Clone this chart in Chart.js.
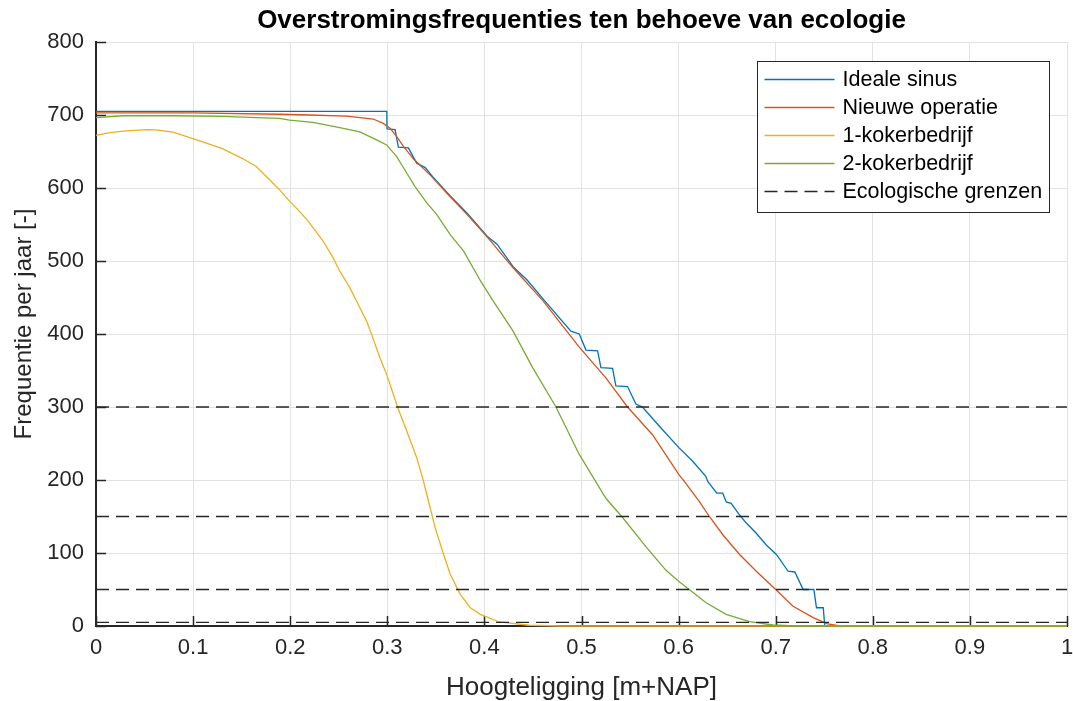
<!DOCTYPE html>
<html>
<head>
<meta charset="utf-8">
<script src="https://cdn.jsdelivr.net/npm/chart.js@4.4.1/dist/chart.umd.min.js"></script>
<style>
html,body{margin:0;padding:0;background:#ffffff;}
#wrap{width:1073px;height:701px;position:relative;}
</style>
</head>
<body>
<div id="wrap"><canvas id="c" width="1073" height="701"></canvas></div>
<script>
// ---- texts ----
const chartTitle = 'Overstromingsfrequenties ten behoeve van ecologie';
const xAxisTitle = 'Hoogteligging [m+NAP]';
const yAxisTitle = 'Frequentie per jaar [-]';
const seriesNames = ['Ideale sinus', 'Nieuwe operatie', '1-kokerbedrijf', '2-kokerbedrijf', 'Ecologische grenzen'];

// ---- ticks ----
const xTickValues = [0, 0.1, 0.2, 0.3, 0.4, 0.5, 0.6, 0.7, 0.8, 0.9, 1];
const xTickLabels = ['0', '0.1', '0.2', '0.3', '0.4', '0.5', '0.6', '0.7', '0.8', '0.9', '1'];
const yTickValues = [0, 100, 200, 300, 400, 500, 600, 700, 800];
const yTickLabels = ['0', '100', '200', '300', '400', '500', '600', '700', '800'];

// ---- series: Ideale sinus ----
const idealeX = [0, 0.2995, 0.2997, 0.308, 0.3114, 0.3217, 0.3303, 0.339, 0.3476, 0.3648, 0.382, 0.4028, 0.413, 0.4303, 0.444, 0.4617, 0.4891, 0.4977, 0.5046, 0.5166, 0.52, 0.532, 0.5354, 0.5474, 0.556, 0.5628, 0.58, 0.6005, 0.6143, 0.628, 0.63, 0.6393, 0.6455, 0.649, 0.6541, 0.6628, 0.6697, 0.68, 0.6903, 0.7007, 0.7128, 0.7197, 0.7283, 0.7393, 0.742, 0.749, 0.7505, 1];
const idealeY = [705, 705, 681, 680, 656, 655, 634, 628, 614, 589, 566, 534, 523, 491, 474, 446, 404, 400, 378, 377, 354, 353, 329, 328, 304, 300, 274, 244, 226, 205, 198, 182, 182, 170, 168, 152, 141, 127, 111, 98, 75, 74, 50, 50, 25, 25, 0, 0];

// ---- series: Nieuwe operatie ----
const nieuweX = [0, 0.1, 0.189, 0.22, 0.258, 0.2855, 0.2959, 0.3028, 0.3097, 0.3166, 0.3269, 0.344, 0.3648, 0.382, 0.4028, 0.43, 0.46, 0.4977, 0.5251, 0.5474, 0.5731, 0.6005, 0.6059, 0.6214, 0.6317, 0.6455, 0.6628, 0.68, 0.7, 0.7179, 0.7386, 0.7524, 0.766, 1];
const nieuweY = [703, 703, 701, 700, 698.5, 694.5, 688.5, 682, 670.5, 657, 640, 618, 588, 564, 533, 490, 446, 382, 340, 300, 262, 207, 198, 170.5, 150, 125, 98, 75, 50, 27, 11.4, 3.2, 0, 0];

// ---- series: 1-kokerbedrijf ----
const koker1X = [0, 0.0144, 0.028, 0.052, 0.062, 0.0795, 0.0966, 0.1137, 0.1308, 0.1514, 0.165, 0.1788, 0.189, 0.1993, 0.2096, 0.2183, 0.2338, 0.2441, 0.251, 0.2614, 0.2717, 0.2786, 0.2838, 0.2924, 0.2993, 0.3062, 0.3114, 0.32, 0.3303, 0.3372, 0.3441, 0.3493, 0.358, 0.3648, 0.3752, 0.3855, 0.3959, 0.4154, 0.446, 0.48, 1];
const koker1Y = [672, 676, 678, 680, 679.5, 676.4, 669, 661.4, 653.6, 640, 629.5, 611.4, 597.7, 582, 568, 555, 527.4, 504.6, 486.3, 463.5, 436, 418, 399.5, 367.6, 344.7, 317.4, 296.8, 267, 230.6, 198.6, 162, 134.7, 98, 70.8, 43.4, 25, 16, 5.5, 1, 0, 0];

// ---- series: 2-kokerbedrijf ----
const koker2X = [0, 0.028, 0.0795, 0.1308, 0.165, 0.189, 0.1993, 0.2234, 0.251, 0.2717, 0.289, 0.2993, 0.3097, 0.32, 0.3286, 0.3407, 0.351, 0.3648, 0.3786, 0.3959, 0.4086, 0.4291, 0.4497, 0.4737, 0.4977, 0.5251, 0.5423, 0.5663, 0.5868, 0.6, 0.611, 0.6283, 0.649, 0.673, 0.6972, 0.72, 1];
const koker2Y = [696.4, 699, 699, 698, 696.4, 695.5, 693, 690, 682.7, 677, 666, 659, 643, 620.5, 602, 579.5, 563.6, 536, 513.6, 473, 446, 405, 354, 300, 235, 175, 148.6, 108.7, 76.6, 61.4, 50, 31.8, 16, 6, 1.4, 0, 0];

// ---- ecological limits ----
const ecoLimits = [300, 150, 50, 5];
const ecoX = [0, 1];

const colors = ['#0072BD', '#D95319', '#EDB120', '#77AC30', '#262626'];
const FONT = '"Liberation Sans", Arial, Helvetica, sans-serif';

function pts(xs, ys) { return xs.map((x, i) => ({ x: x, y: ys[i] })); }

const datasets = [
  { label: seriesNames[0], data: pts(idealeX, idealeY), borderColor: colors[0], borderWidth: 1.3, order: 9 },
  { label: seriesNames[1], data: pts(nieuweX, nieuweY), borderColor: colors[1], borderWidth: 1.3, order: 8 },
  { label: seriesNames[2], data: pts(koker1X, koker1Y), borderColor: colors[2], borderWidth: 1.3, order: 7 },
  { label: seriesNames[3], data: pts(koker2X, koker2Y), borderColor: colors[3], borderWidth: 1.3, order: 6 }
];
ecoLimits.forEach((v, i) => {
  datasets.push({
    label: i === 0 ? seriesNames[4] : '',
    data: ecoX.map(x => ({ x: x, y: v })),
    borderColor: colors[4], borderWidth: 1.3, borderDash: [13, 7], order: 5 - i
  });
});
datasets.forEach(d => { d.pointRadius = 0; d.fill = false; d.tension = 0; d.clip = 3; });

// Title and y-axis title, drawn as text on the canvas
const titles = {
  id: 'titles',
  afterDraw(chart) {
    const ctx = chart.ctx, a = chart.chartArea;
    ctx.save();
    ctx.textAlign = 'center';
    ctx.textBaseline = 'middle';
    ctx.fillStyle = '#000000';
    ctx.font = 'bold 26px ' + FONT;
    ctx.fillText(chartTitle, (a.left + a.right) / 2, 21);
    ctx.fillStyle = '#262626';
    ctx.font = '24px ' + FONT;
    ctx.translate(24, (a.top + a.bottom) / 2 - 10);
    ctx.rotate(-Math.PI / 2);
    ctx.fillText(yAxisTitle, 0, 0);
    ctx.restore();
  }
};

const insideTicks = {
  id: 'insideTicks',
  beforeDatasetsDraw(chart) {
    const ctx = chart.ctx, a = chart.chartArea, xs = chart.scales.x, ys = chart.scales.y;
    ctx.save();
    ctx.strokeStyle = '#262626';
    ctx.lineWidth = 1.5;
    ctx.beginPath();
    xTickValues.forEach(v => { const p = Math.round(xs.getPixelForValue(v)) + 0.5; ctx.moveTo(p, a.bottom); ctx.lineTo(p, a.bottom - 10); });
    yTickValues.forEach(v => { const p = Math.round(ys.getPixelForValue(v)) + 0.5; ctx.moveTo(a.left, p); ctx.lineTo(a.left + 10, p); });
    ctx.stroke();
    ctx.restore();
  }
};

const boxLegend = {
  id: 'boxLegend',
  afterDraw(chart) {
    const ctx = chart.ctx, a = chart.chartArea;
    const items = chart.data.datasets.filter(d => d.label);
    const w = 292, rowH = 28;
    const h = items.length * rowH + 11;
    const x0 = Math.round(a.right - 18 - w) + 0.5, y0 = Math.round(a.top + 19) + 0.5;
    ctx.save();
    ctx.fillStyle = '#ffffff';
    ctx.fillRect(x0, y0, w, h);
    ctx.strokeStyle = '#262626';
    ctx.lineWidth = 1;
    ctx.strokeRect(x0, y0, w, h);
    ctx.font = '21.5px ' + FONT;
    ctx.textBaseline = 'middle';
    ctx.textAlign = 'left';
    items.forEach((d, i) => {
      const cy = Math.round(y0 + 17 + i * rowH) + 0.5;
      ctx.strokeStyle = d.borderColor;
      ctx.lineWidth = d.borderWidth;
      ctx.setLineDash(d.borderDash || []);
      ctx.beginPath(); ctx.moveTo(x0 + 7, cy); ctx.lineTo(x0 + 77, cy); ctx.stroke();
      ctx.setLineDash([]);
      ctx.fillStyle = '#000000';
      ctx.fillText(d.label, x0 + 85, cy + 1);
    });
    ctx.restore();
  }
};

new Chart(document.getElementById('c'), {
  type: 'line',
  data: { datasets: datasets },
  plugins: [insideTicks, boxLegend, titles],
  options: {
    responsive: false,
    devicePixelRatio: 1,
    animation: false,
    layout: { padding: { top: 42, right: 6, bottom: 0, left: 0 } },
    plugins: {
      legend: { display: false },
      tooltip: { enabled: false },
      title: { display: false }
    },
    scales: {
      x: {
        type: 'linear', min: 0, max: 1,
        afterBuildTicks: s => { s.ticks = xTickValues.map(v => ({ value: v })); },
        afterFit: s => { s.height = 75; s.paddingRight = 0; s.paddingLeft = 0; },
        ticks: {
          callback: (v, i) => xTickLabels[i], color: '#262626', padding: 9,
          maxRotation: 0, autoSkip: false, font: { family: FONT, size: 22 }
        },
        grid: { color: '#e2e2e2', lineWidth: 1, drawTicks: false },
        border: { display: true, color: '#262626', width: 2 },
        title: {
          display: true, text: xAxisTitle, color: '#262626',
          font: { family: FONT, size: 26, lineHeight: 1 }, padding: { top: 0, bottom: 0 }
        }
      },
      y: {
        type: 'linear', min: 0, max: 800,
        afterBuildTicks: s => { s.ticks = yTickValues.map(v => ({ value: v })); },
        afterFit: s => { s.width = 96; },
        ticks: {
          callback: (v, i) => yTickLabels[i], color: '#262626', padding: 12,
          autoSkip: false, font: { family: FONT, size: 22 }
        },
        grid: { color: '#e2e2e2', lineWidth: 1, drawTicks: false },
        border: { display: true, color: '#262626', width: 2 },
        title: { display: false }
      }
    }
  }
});
</script>
</body>
</html>
